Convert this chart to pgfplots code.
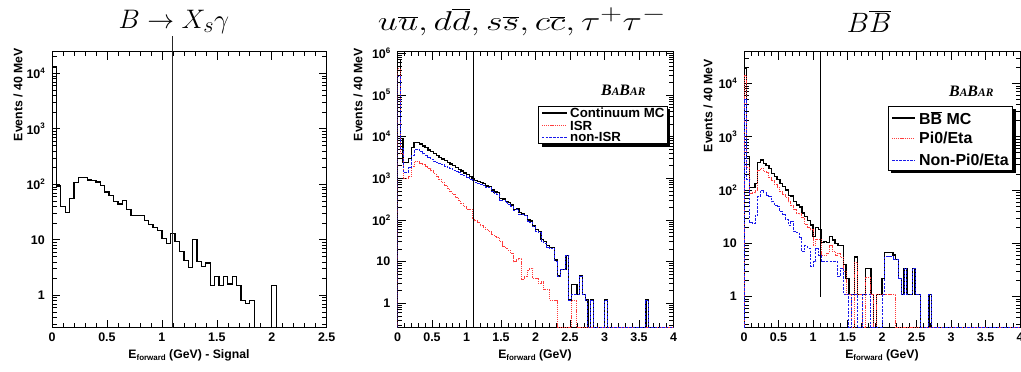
\documentclass[border=0pt]{standalone}
\usepackage{graphicx}
\usepackage{fontspec}
\setmainfont{Liberation Sans}
\newfontfamily\logofont{Liberation Serif}
\usepackage{pgfplots}
\usepackage{pgfplotstable}
\pgfplotsset{compat=1.18}

\definecolor{isrred}{RGB}{255,60,60}
\definecolor{nonblue}{RGB}{25,25,235}

\newcommand\tickfont{\bfseries\fontsize{12.5}{13}\selectfont}
\newcommand\labfont{\bfseries\fontsize{12.3}{13}\selectfont}
\newcommand\tsup[1]{\raisebox{0.8ex}{\fontsize{8}{8}\selectfont #1}}
\newcommand\eforward{E\raisebox{-0.4ex}{\fontsize{8}{8}\selectfont forward}}
\newcommand\babar{{\logofont\bfseries\itshape\fontsize{16}{16}\selectfont B\fontsize{11.5}{12}\selectfont A\fontsize{16}{16}\selectfont B\fontsize{11.5}{12}\selectfont AR}}
\newcommand\titlefont{\fontsize{24.88}{30}\selectfont}

% Signal sample, 40 MeV bins (lower bin edge, events); 0.26 = empty bin at the floor
\pgfplotstableread{
x y
0.00 0.26
0.00 13000
0.04 93
0.08 40
0.12 31
0.16 55
0.20 109
0.24 132
0.28 134
0.32 120
0.36 117
0.40 110
0.44 95
0.48 73
0.52 62
0.56 49
0.60 44
0.64 51
0.68 35
0.72 27.6
0.76 27.6
0.80 27
0.84 22
0.88 18.8
0.92 16.8
0.96 14.6
1.00 10.6
1.04 8.6
1.08 13.1
1.12 9.3
1.16 6.1
1.20 4.2
1.24 3.2
1.28 10.2
1.32 4.0
1.36 3.3
1.40 3.8
1.44 1.5
1.48 2.2
1.52 1.5
1.56 2.2
1.60 1.6
1.64 2.2
1.68 1.5
1.72 0.8
1.76 0.7
1.80 0.8
1.84 0.26
2.00 1.5
2.04 0.26
2.50 0.26
}\tabsig

% Continuum MC: total, ISR, non-ISR
\pgfplotstableread{
x c r n
0.00 0.26 0.26 0.26
0.00 700000 420000 280000
0.04 9100 4000 5100
0.08 2400 1000 1400
0.12 2400 1000 1400
0.16 2950 1100 1850
0.20 5500 1900 3600
0.24 7300 2500 4800
0.28 7300 2500 4800
0.32 6600 2300 4300
0.36 6000 2100 3900
0.40 5500 1900 3600
0.44 4800 1700 3100
0.48 4400 1500 2900
0.52 3900 1300 2600
0.56 3500 1100 2400
0.60 3200 950 2250
0.64 2900 800 2100
0.68 2650 680 1970
0.72 2400 560 1840
0.76 2200 470 1730
0.80 2000 420 1580
0.84 1800 350 1450
0.88 1650 290 1360
0.92 1500 250 1250
0.96 1350 210 1140
1.00 1220 180 1040
1.04 1100 180 920
1.08 1000 110 890
1.12 900 95 805
1.16 830 85 745
1.20 800 72 728
1.24 740 67 673
1.28 650 58 592
1.32 640 52 588
1.36 520 44 476
1.40 470 41 429
1.44 450 38 412
1.48 330 30 300
1.52 320 23 297
1.56 280 21 259
1.60 260 19 241
1.64 230 16 214
1.68 180 10 170
1.72 190 11 179
1.76 150 12 138
1.80 140 3.8 136
1.84 130 4.4 126
1.88 100 6.3 94
1.92 95 7 88
1.96 72 4 68
2.00 58 4 54
2.04 52 3 49
2.08 34 3.3 31
2.12 30 2.1 28
2.16 24 2.1 22
2.20 22 1.2 21
2.24 22 1.2 21
2.28 11 1.2 10
2.32 4.5 0.26 4.5
2.36 6.5 0.26 6.5
2.40 6.5 0.26 6.5
2.44 14 0.26 14
2.48 1.2 0.26 1.2
2.52 2.8 1.2 1.6
2.56 2.8 1.2 1.6
2.60 1.6 0.26 1.6
2.64 4.5 0.26 4.5
2.68 1.6 0.26 1.6
2.72 1.2 0.26 1.2
2.76 0.26 0.26 0.26
2.80 1.2 0.26 1.2
2.84 0.26 0.26 0.26
3.00 1.2 0.26 1.2
3.04 0.26 0.26 0.26
3.60 1.2 0.26 1.2
3.64 0.26 0.26 0.26
4.00 0.26 0.26 0.26
}\tabcont

% BBbar MC: total, Pi0/Eta, non-Pi0/Eta
\pgfplotstableread{
x b p n
0.00 0.26 0.26 0.26
0.00 19000 14000 5000
0.04 420 260 160
0.08 110 85 25
0.12 112 88 24
0.16 133 100 33
0.20 330 230 75
0.24 365 255 100
0.28 316 225 88
0.32 290 210 78
0.36 250 175 76
0.40 205 150 60
0.44 178 128 52
0.48 158 112 48
0.52 133 95 40
0.56 115 82 34
0.60 100 72 28
0.64 80 60 22
0.68 77 52 26
0.72 60 44 17
0.76 52 37 16
0.80 48 36 13
0.84 37 30 7
0.88 32 23 9
0.92 27 20 8
0.96 22 18 3.7
1.00 13.3 9 4.5
1.04 20 12 8
1.08 18 12 6
1.12 10.3 6 4.5
1.16 10.7 6 4.5
1.20 10.3 6.5 4.5
1.24 13.3 9 4.5
1.28 11.5 7 4.5
1.32 10 6 4.5
1.36 9 6.5 2.4
1.40 9 5.5 3.4
1.44 4 3 1.1
1.48 2.2 1.1 1.1
1.52 1.1 1.1 0.26
1.56 1.1 0.26 1.1
1.60 5.5 4.4 1.1
1.64 1.1 1.1 0.26
1.68 1.1 1.1 0.26
1.72 1.1 0.26 1.1
1.76 3.4 2.3 1.1
1.80 3.4 2.3 1.1
1.84 1.1 1.1 0.26
1.88 0.26 0.26 0.26
1.92 1.1 1.1 0.26
1.96 1.1 1.1 0.26
2.00 2.2 1.1 1.1
2.04 6.8 1.1 5.7
2.08 6.8 1.1 5.7
2.12 6.8 1.1 5.7
2.16 6 1.1 4.9
2.20 4.9 0.26 4.9
2.24 2.2 0.26 2.2
2.28 1.1 0.26 1.1
2.32 3.4 0.26 3.4
2.36 1.1 0.26 1.1
2.40 1.1 0.26 1.1
2.44 3.4 0.26 3.4
2.48 1.1 0.26 1.1
2.52 1.1 0.26 1.1
2.56 0.26 0.26 0.26
2.68 1.1 0.26 1.1
2.72 0.26 0.26 0.26
4.00 0.26 0.26 0.26
}\tabbb

\pgfplotsset{
  rootframe/.style={
    scale only axis, height=276bp, ymin=0.26,
    tick align=inside, tick pos=both,
    axis line style={line width=0.8pt},
    major tick style={black, line width=0.6pt},
    minor tick style={black, line width=0.6pt},
    major tick length=8bp, minor tick length=4.5bp,
    minor x tick num=4,
    xticklabel style={font=\tickfont, inner sep=1bp, yshift=-4bp},
    yticklabel style={font=\tickfont, inner sep=1bp, xshift=-6bp},
  },
  histline/.style={const plot mark left, line join=miter},
  totline/.style={histline, black, line width=1.3pt},
  isrline/.style={histline, isrred, line width=1pt, dash pattern=on 1.2pt off 0.9pt},
  nonline/.style={histline, nonblue, line width=1pt, dash pattern=on 2.5pt off 1.2pt},
}

\begin{document}
\begin{tikzpicture}[x=1bp,y=1bp]
\path[use as bounding box] (0,0) rectangle (1021,-371);

% ---------- signal ----------
\begin{semilogyaxis}[rootframe, width=274.7bp, anchor=south west, at={(52bp,-327.7bp)},
  xmin=0, xmax=2.5, ymax=24500,
  xtick={0,0.5,1,1.5,2,2.5}, xticklabels={0,0.5,1,1.5,2,2.5},
  ytick={1,10,100,1000,10000},
  yticklabels={1,10,10\tsup{2},10\tsup{3},10\tsup{4}},
  minor ytick={0.3,0.4,0.5,0.6,0.7,0.8,0.9,2,3,...,9,20,30,...,90,200,300,...,900,2000,3000,...,9000,20000}]
\addplot[totline] table[x=x,y=y]{\tabsig};
\coordinate (cutA) at (axis cs:1.1,0.26);
\coordinate (cutB) at (axis cs:1.1,47000);
\end{semilogyaxis}
\draw[line width=0.8pt, black!85] (cutA) -- (cutB);

% ---------- continuum ----------
\begin{semilogyaxis}[rootframe, width=276bp, anchor=south west, at={(397.5bp,-327.7bp)},
  xmin=0, xmax=4, ymax=1.09e6,
  xtick={0,0.5,...,4}, xticklabels={0,0.5,1,1.5,2,2.5,3,3.5,4},
  ytick={1,10,100,1000,10000,100000,1000000},
  yticklabels={1,10,10\tsup{2},10\tsup{3},10\tsup{4},10\tsup{5},10\tsup{6}},
  minor ytick={0.3,0.4,0.5,0.6,0.7,0.8,0.9,2,3,...,9,20,30,...,90,200,300,...,900,2000,3000,...,9000,20000,30000,40000,50000,60000,70000,80000,90000,200000,300000,400000,500000,600000,700000,800000,900000}]
\addplot[totline] table[x=x,y=c]{\tabcont};
\addplot[isrline] table[x=x,y=r]{\tabcont};
\addplot[nonline] table[x=x,y=n]{\tabcont};
\draw[line width=0.8pt] (axis cs:1.1,0.26) -- (axis cs:1.1,1.09e6);
\end{semilogyaxis}

% ---------- BBbar ----------
\begin{semilogyaxis}[rootframe, width=276bp, anchor=south west, at={(744bp,-327.7bp)},
  xmin=0, xmax=4, ymax=39500,
  xtick={0,0.5,...,4}, xticklabels={0,0.5,1,1.5,2,2.5,3,3.5,4},
  ytick={1,10,100,1000,10000},
  yticklabels={1,10,10\tsup{2},10\tsup{3},10\tsup{4}},
  minor ytick={0.3,0.4,0.5,0.6,0.7,0.8,0.9,2,3,...,9,20,30,...,90,200,300,...,900,2000,3000,...,9000,20000,30000}]
\addplot[totline] table[x=x,y=b]{\tabbb};
\addplot[isrline] table[x=x,y=p]{\tabbb};
\addplot[nonline] table[x=x,y=n]{\tabbb};
\draw[line width=0.8pt] (axis cs:1.1,1) -- (axis cs:1.1,39500);
\end{semilogyaxis}

% titles
\node[anchor=base] at (174,-28) {\scalebox{1.08}{\titlefont $B\to X_s\gamma$}};
\node[anchor=base] at (522,-30) {\scalebox{1.45}[1.1]{\titlefont $u\overline{u}, d\overline{d}, s\overline{s}, c\overline{c}, \tau^+\tau^-$}};
\node[anchor=base] at (869,-32) {\scalebox{1.13}{\titlefont $B\overline{B}$}};

% axis titles
\node[rotate=90, anchor=east, font=\labfont] at (18,-45) {Events / 40 MeV};
\node[rotate=90, anchor=east, font=\labfont] at (358,-45) {Events / 40 MeV};
\node[rotate=90, anchor=east, font=\labfont] at (708,-56) {Events / 40 MeV};
\node[anchor=base, font=\labfont] at (189,-358) {\eforward{} (GeV) - Signal};
\node[anchor=base, font=\labfont] at (535,-358) {\eforward{} (GeV)};
\node[anchor=base, font=\labfont] at (882,-358) {\eforward{} (GeV)};

% experiment tags
\node[anchor=base west, inner sep=0] at (601,-95.5) {\babar};
\node[anchor=base west, inner sep=0] at (949,-96) {\babar};

% legend, continuum
\fill[black] (541.7,-109) rectangle (670,-146.5);
\draw[fill=white, line width=0.8pt] (538.7,-106) rectangle (667,-143.5);
\draw[black, line width=1.3pt] (542,-113) -- (567,-113);
\draw[isrred, line width=1pt, dash pattern=on 1.2pt off 0.9pt] (542,-125.5) -- (567,-125.5);
\draw[nonblue, line width=1pt, dash pattern=on 2.5pt off 1.2pt] (542,-137) -- (567,-137);
\node[anchor=west, inner sep=0, font=\bfseries\fontsize{13.3}{13.5}\selectfont] at (570,-113) {Continuum MC};
\node[anchor=west, inner sep=0, font=\bfseries\fontsize{13.3}{13.5}\selectfont] at (570,-125.5) {ISR};
\node[anchor=west, inner sep=0, font=\bfseries\fontsize{13.3}{13.5}\selectfont] at (570,-137) {non-ISR};

% legend, BBbar
\fill[black] (891.3,-109) rectangle (1015.7,-173);
\draw[fill=white, line width=0.8pt] (888.3,-106) rectangle (1012.7,-170);
\draw[black, line width=1.3pt] (892,-118) -- (915,-118);
\draw[isrred, line width=1pt, dash pattern=on 1.2pt off 0.9pt] (892,-138) -- (915,-138);
\draw[nonblue, line width=1pt, dash pattern=on 2.5pt off 1.2pt] (892,-160) -- (915,-160);
\node[anchor=west, inner sep=0, font=\bfseries\fontsize{16}{17}\selectfont] at (919,-118) {B$\overline{\mbox{B}}$ MC};
\node[anchor=west, inner sep=0, font=\bfseries\fontsize{16}{17}\selectfont] at (919,-138) {Pi0/Eta};
\node[anchor=west, inner sep=0, font=\bfseries\fontsize{16}{17}\selectfont] at (919,-160) {Non-Pi0/Eta};
\end{tikzpicture}
\end{document}
